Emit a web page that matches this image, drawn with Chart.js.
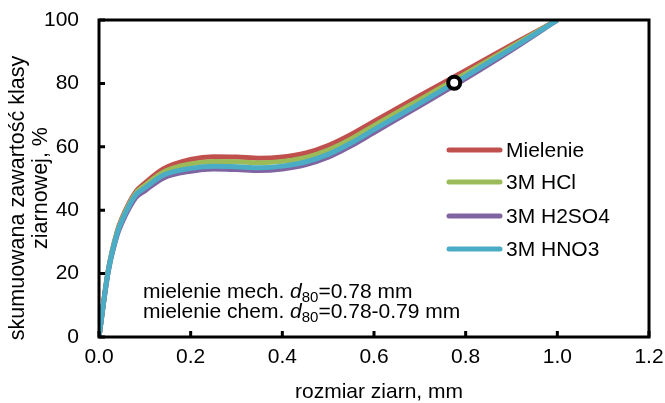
<!DOCTYPE html>
<html>
<head>
<meta charset="utf-8">
<script src="https://cdn.jsdelivr.net/npm/chart.js@4"></script>
<style>
  html, body { margin: 0; padding: 0; background: #fff; }
</style>
</head>
<body>
<canvas id="chart" width="665" height="403"></canvas>
<script>
// rozmiar ziarn, mm
const rozmiar = [0, 0.02, 0.04, 0.05, 0.08, 0.1, 0.14, 0.2, 0.25, 0.3, 0.35, 0.4, 0.45, 0.5, 0.55, 0.6, 0.7, 0.8, 0.9, 1.0];

// skumulowana zawartość, %
const mielenie = [0, 21, 33.5, 37.5, 45.8, 48.5, 53, 56, 56.9, 56.8, 56.4, 56.8, 58, 60.4, 63.9, 68, 76.1, 84.1, 92.1, 100];
const hcl      = [0, 20.85, 33.2, 37.1, 45.3, 47.8, 52, 54.6, 55.4, 55.3, 55, 55.4, 56.6, 59, 62.5, 66.7, 74.9, 83.1, 91.5, 100];
const h2so4    = [0, 20.4, 32.3, 36, 43.9, 46.1, 50.1, 52.3, 53, 52.8, 52.5, 53, 54.3, 56.7, 60.3, 64.5, 72.9, 81.5, 90.5, 100];
const hno3     = [0, 20.7, 32.9, 36.7, 44.8, 47, 51, 53.2, 53.9, 53.7, 53.4, 53.9, 55.2, 57.6, 61.2, 65.4, 73.7, 82.2, 91, 100];

// punkt d80
const d80x = [0.775];
const d80y = [80.2];

const etykiety = ['Mielenie', '3M HCl', '3M H2SO4', '3M HNO3'];
const kolory = ['#C0504D', '#9BBB59', '#8064A2', '#4BACC6'];

const FONT = 'Liberation Sans, Arial, sans-serif';

function punkty(ys) {
    return rozmiar.map((x, i) => ({ x: x, y: ys[i] }));
}

function seria(idx, ys, order) {
    return {
        label: etykiety[idx],
        data: punkty(ys),
        showLine: true,
        borderColor: kolory[idx],
        backgroundColor: kolory[idx],
        borderWidth: 5,
        pointRadius: 0,
        cubicInterpolationMode: 'monotone',
        order: order
    };
}

// ramka, znaczniki do środka, legenda, opis i tytuły osi
const dodatki = {
    id: 'dodatki',
    afterDatasetsDraw(chart) {
        const ctx = chart.ctx;
        const a = chart.chartArea;
        const xs = chart.scales.x;
        const ys = chart.scales.y;
        ctx.save();
        ctx.strokeStyle = '#000';
        ctx.lineWidth = 3;
        ctx.strokeRect(a.left, a.top, a.right - a.left, a.bottom - a.top);

        // znaczniki
        ctx.beginPath();
        xs.ticks.forEach(t => {
            const px = xs.getPixelForValue(t.value);
            ctx.moveTo(px, a.bottom);
            ctx.lineTo(px, a.bottom - 6);
        });
        ys.ticks.forEach(t => {
            const py = ys.getPixelForValue(t.value);
            ctx.moveTo(a.left, py);
            ctx.lineTo(a.left + 6, py);
        });
        ctx.stroke();

        // legenda
        ctx.font = '21px ' + FONT;
        ctx.textBaseline = 'middle';
        ctx.fillStyle = '#000';
        ctx.lineCap = 'round';
        const wiersze = [150, 182, 216, 249];
        etykiety.forEach((lab, i) => {
            ctx.strokeStyle = kolory[i];
            ctx.lineWidth = 5;
            ctx.beginPath();
            ctx.moveTo(449, wiersze[i]);
            ctx.lineTo(500, wiersze[i]);
            ctx.stroke();
            ctx.fillText(lab, 506, wiersze[i] + 1);
        });

        // opis d80
        ctx.textBaseline = 'alphabetic';
        const opis = [
            ['mielenie mech. ', '=0.78 mm', 298],
            ['mielenie chem. ', '=0.78-0.79 mm', 318]
        ];
        opis.forEach(([pre, post, y]) => {
            let x = 143;
            ctx.font = '21px ' + FONT;
            ctx.fillText(pre, x, y);
            x += ctx.measureText(pre).width;
            ctx.font = 'italic 21px ' + FONT;
            ctx.fillText('d', x, y);
            x += ctx.measureText('d').width;
            ctx.font = '15px ' + FONT;
            ctx.fillText('80', x, y + 4);
            x += ctx.measureText('80').width;
            ctx.font = '21px ' + FONT;
            ctx.fillText(post, x, y);
        });

        // tytuły osi
        ctx.textAlign = 'center';
        ctx.textBaseline = 'middle';
        ctx.font = '21px ' + FONT;
        ctx.fillText('rozmiar ziarn, mm', 379, 392);
        ctx.font = '21.5px ' + FONT;
        ctx.save();
        ctx.translate(18, 198);
        ctx.rotate(-Math.PI / 2);
        ctx.fillText('skumuowana zawartość klasy', 0, 0);
        ctx.restore();
        ctx.save();
        ctx.translate(41, 188);
        ctx.rotate(-Math.PI / 2);
        ctx.fillText('ziarnowej, %', 0, 0);
        ctx.restore();
        ctx.restore();
    }
};

new Chart(document.getElementById('chart'), {
    type: 'scatter',
    data: {
        datasets: [
            seria(0, mielenie, 5),
            seria(1, hcl, 4),
            seria(2, h2so4, 3),
            seria(3, hno3, 2),
            {
                label: 'd80',
                data: d80x.map((x, i) => ({ x: x, y: d80y[i] })),
                pointRadius: 6,
                pointBorderWidth: 4,
                pointBorderColor: '#000',
                pointBackgroundColor: '#fff',
                showLine: false,
                order: 1
            }
        ]
    },
    options: {
        responsive: false,
        animation: false,
        layout: { padding: { top: 20, right: 16, left: 0, bottom: 0 } },
        plugins: {
            legend: { display: false },
            tooltip: { enabled: false }
        },
        scales: {
            x: {
                type: 'linear',
                min: 0,
                max: 1.2,
                grid: { display: false, drawTicks: false },
                border: { display: false },
                ticks: {
                    stepSize: 0.2,
                    padding: 8,
                    color: '#000',
                    font: { family: FONT, size: 21 },
                    callback: v => v.toFixed(1)
                },
                afterFit: s => {
                    s.height = 66;
                    s.paddingLeft = 0;
                    s.paddingRight = 0;
                }
            },
            y: {
                min: 0,
                max: 100,
                grid: { display: false, drawTicks: false },
                border: { display: false },
                ticks: {
                    stepSize: 20,
                    padding: 20,
                    color: '#000',
                    font: { family: FONT, size: 21 }
                },
                afterFit: s => {
                    s.width = 99;
                    s.paddingTop = 0;
                    s.paddingBottom = 0;
                }
            }
        }
    },
    plugins: [dodatki]
});
</script>
</body>
</html>
